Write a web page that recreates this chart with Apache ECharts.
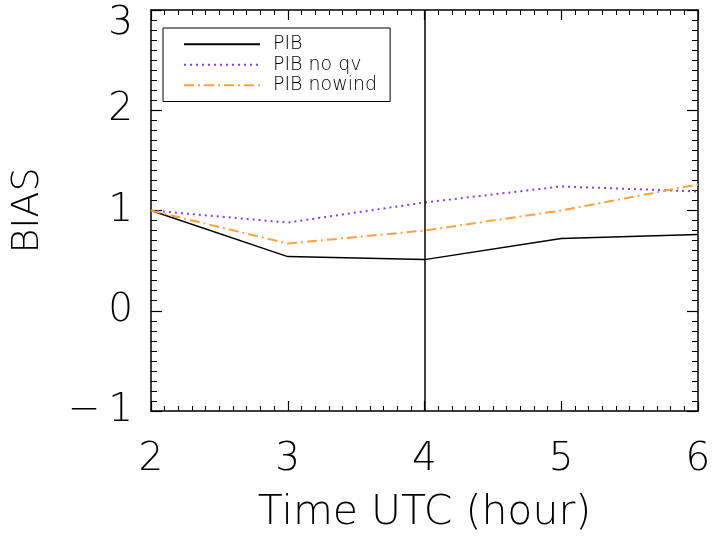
<!DOCTYPE html>
<html>
<head>
<meta charset="utf-8">
<script src="https://cdn.jsdelivr.net/npm/echarts@6/dist/echarts.min.js"></script>
<style>html,body{margin:0;padding:0;background:#fff}#c{width:712px;height:537px}</style>
</head>
<body>
<div id="c"></div>
<script>
var hours = [2, 3, 4, 5, 6];
var pib = [1.0, 0.54, 0.51, 0.72, 0.76];
var pibNoQv = [1.0, 0.88, 1.08, 1.24, 1.19];
var pibNowind = [1.0, 0.67, 0.80, 1.0, 1.26];
var seriesNames = ['PIB', 'PIB no qv', 'PIB nowind'];
var vLineAt = 4;
var yMin = -1, yMax = 3;

var FONT = 'DejaVu Sans';
function pairs(v) { return hours.map(function (h, i) { return [h, v[i]]; }); }

var chart = echarts.init(document.getElementById('c'), null, { renderer: 'canvas' });
var axisLine = { show: true, onZero: false, lineStyle: { color: '#000', width: 1.5 } };
var tickMajor = { show: true, inside: true, length: 11, lineStyle: { color: '#000', width: 1.2 } };
var minor = { show: true, splitNumber: 10, length: 6, lineStyle: { color: '#000', width: 1 } };
var xTickMajor = { show: true, inside: true, length: 10, lineStyle: { color: '#000', width: 1.2 } };
var xMinor = { show: true, splitNumber: 10, length: 5, lineStyle: { color: '#000', width: 1 } };

chart.setOption({
  animation: false,
  backgroundColor: '#fff',
  grid: { left: 151, right: 14, top: 10, bottom: 126, containLabel: false, outerBoundsMode: 'none' },
  legend: {
    left: 163, top: 28, orient: 'vertical',
    data: seriesNames,
    borderColor: '#000', borderWidth: 1,
    padding: [6, 13, 6, 20],
    itemWidth: 76, itemHeight: 14, itemGap: 0,
    itemStyle: { opacity: 0 },
    textStyle: { fontFamily: FONT, fontWeight: 200, fontSize: 19, color: '#000', lineHeight: 20.5, padding: [0, 0, 0, 8] }
  },
  xAxis: [{
    type: 'value', min: 2, max: 6, interval: 1,
    name: 'Time UTC (hour)', nameLocation: 'middle', nameGap: 82,
    nameTextStyle: { fontFamily: FONT, fontWeight: 200, fontSize: 41, color: '#000' },
    axisLine: axisLine, axisTick: xTickMajor, minorTick: xMinor,
    splitLine: { show: false },
    axisLabel: { fontFamily: FONT, fontWeight: 200, fontSize: 39, color: '#000', margin: 29 }
  }, {
    type: 'value', position: 'top', min: 2, max: 6, interval: 1,
    axisLine: axisLine, axisTick: xTickMajor, minorTick: xMinor,
    splitLine: { show: false }, axisLabel: { show: false }
  }],
  yAxis: [{
    type: 'value', min: yMin, max: yMax, interval: 1,
    name: 'BIAS', nameLocation: 'middle', nameGap: 104,
    nameTextStyle: { fontFamily: FONT, fontWeight: 200, fontSize: 38, color: '#000' },
    axisLine: axisLine, axisTick: tickMajor, minorTick: minor,
    splitLine: { show: false },
    axisLabel: {
      fontFamily: FONT, fontWeight: 200, fontSize: 39, color: '#000', margin: 18,
      formatter: function (v) {
        if (v === yMax) return '{top|' + v + '}';
        return v < 0 ? '\u2212\u2009' + Math.abs(v) : String(v);
      },
      rich: { top: { fontFamily: FONT, fontWeight: 200, fontSize: 39, color: '#000', padding: [27, 0, 0, 0] } }
    }
  }, {
    type: 'value', position: 'right', min: yMin, max: yMax, interval: 1,
    axisLine: axisLine, axisTick: tickMajor, minorTick: minor,
    splitLine: { show: false }, axisLabel: { show: false }
  }],
  series: [{
    name: seriesNames[0], type: 'line', data: pairs(pib), symbol: 'none',
    lineStyle: { color: '#000', width: 1.5, type: 'solid' }, itemStyle: { color: '#000' },
    markLine: {
      silent: true, symbol: ['none', 'none'], label: { show: false },
      lineStyle: { color: '#000', width: 1.5, type: 'solid' },
      data: [{ xAxis: vLineAt }]
    }
  }, {
    name: seriesNames[1], type: 'line', data: pairs(pibNoQv), symbol: 'none',
    lineStyle: { color: '#7f3fff', width: 2, type: [2, 4] }, itemStyle: { color: '#7f3fff' }
  }, {
    name: seriesNames[2], type: 'line', data: pairs(pibNowind), symbol: 'none',
    lineStyle: { color: '#ffa040', width: 2, type: [10, 4, 2, 4] }, itemStyle: { color: '#ffa040' }
  }]
});
</script>
</body>
</html>
